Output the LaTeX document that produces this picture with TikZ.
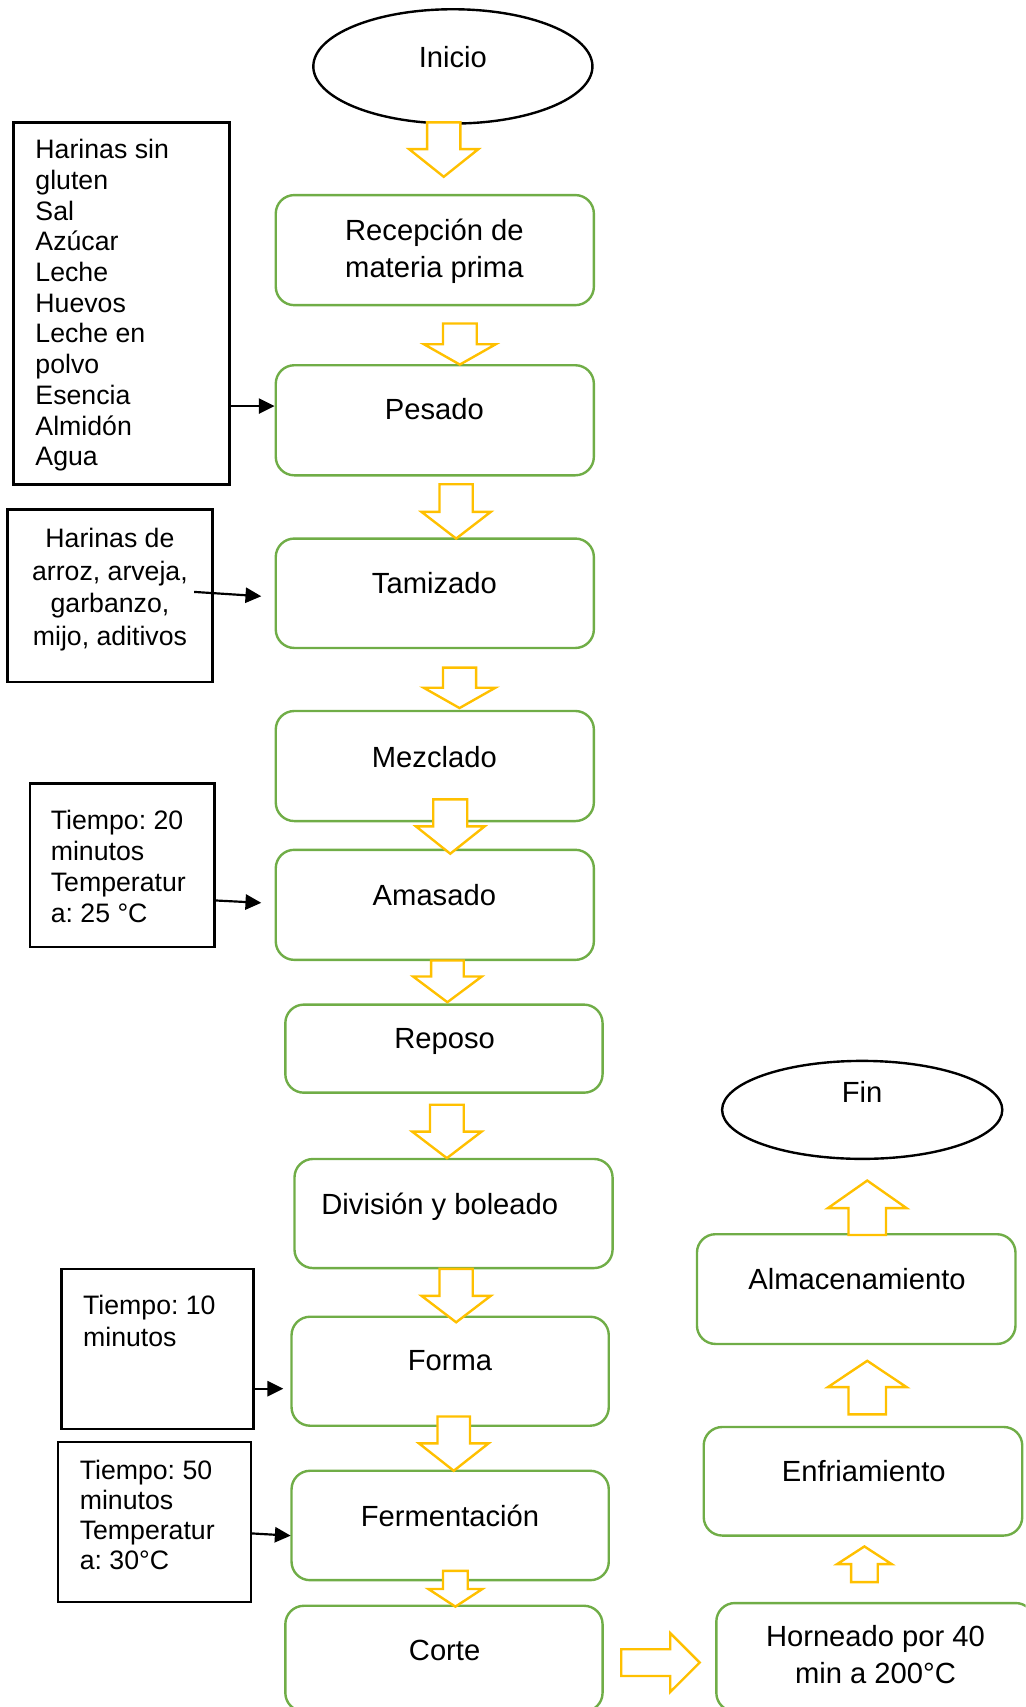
\documentclass[tikz,border=0pt]{standalone}
\usepackage{fontspec}
\setmainfont{Liberation Sans}
\frenchspacing
\usetikzlibrary{arrows.meta,shapes.geometric}
\definecolor{boxgreen}{HTML}{70AD47}
\definecolor{arrowgold}{HTML}{FFC000}
% vertical block arrow: axis x, start, head base, tip, shaft half width, head half width
\newcommand{\varrowblk}[6]{\draw[blockarrow] ({#1-#5},#2) -- ({#1-#5},#3) -- ({#1-#6},#3) -- (#1,#4) -- ({#1+#6},#3) -- ({#1+#5},#3) -- ({#1+#5},#2) -- cycle;}
% box from corners
\newcommand{\mkbox}[6]{\node[#1, minimum width={#5-#3}, minimum height={#6-#4}] (#2) at ({(#3+#5)/2},{(#4+#6)/2}) {};}
\begin{document}
\begin{tikzpicture}[x=1pt,y=-1pt,
 procbox/.style={draw=boxgreen, line width=2.2pt, rounded corners=17pt, inner sep=0pt},
 sidebox/.style={draw=black, line width=2.4pt, inner sep=0pt},
 endbox/.style={ellipse, draw=black, line width=2.2pt, inner sep=0pt},
 blockarrow/.style={draw=arrowgold, line width=2.2pt, fill=white, line join=miter},
 mtext/.style={font=\fontsize{26.8}{33.6}\selectfont, align=center, anchor=base, inner sep=0pt},
 stext/.style={font=\fontsize{24.5}{#1}\selectfont, align=left, anchor=base west, inner sep=0pt},
 stext/.default=28.3,
 link/.style={draw=black, line width=2pt, -{Triangle[length=14.5pt,width=14pt]}}]
\useasboundingbox (0,0) rectangle (942,1568);
\clip (0,0) rectangle (942,1568);

% terminals
\node[endbox, minimum width=256.4, minimum height=105] (inicio) at (416,61) {};
\node[endbox, minimum width=257.4, minimum height=90] (fin) at (792,1019.5) {};

% process boxes
\mkbox{procbox}{recep}{253.3}{179.2}{545.5}{280.3}
\mkbox{procbox}{pesado}{253.3}{335.5}{545.5}{436.6}
\mkbox{procbox}{tamiz}{253.3}{494.7}{545.5}{595.2}
\mkbox{procbox}{mezcla}{253.3}{653.1}{545.5}{754.2}
\mkbox{procbox}{amasado}{253.3}{780.6}{545.5}{881.7}
\mkbox{procbox}{reposo}{262.1}{922.8}{553.5}{1003.7}
\mkbox{procbox}{division}{270.5}{1064.6}{562.7}{1164.8}
\mkbox{procbox}{forma}{267.8}{1209.5}{559.2}{1309.6}
\mkbox{procbox}{ferment}{267.8}{1351}{559.2}{1451.5}
\mkbox{procbox}{corte}{262.1}{1475}{553.5}{1572}
\mkbox{procbox}{horneado}{658}{1472.5}{950}{1572}
\mkbox{procbox}{enfria}{646.4}{1310.8}{939}{1410.5}
\mkbox{procbox}{almacen}{640.2}{1133.7}{932.8}{1234.5}

% side boxes
\mkbox{sidebox}{s1}{12.6}{112.4}{210.7}{444.9}
\mkbox{sidebox}{s2}{6.9}{468}{195}{626.5}
\mkbox{sidebox}{s3}{27.4}{719.9}{197.3}{870}
\mkbox{sidebox}{s4}{56.4}{1165.6}{233.1}{1312.6}
\mkbox{sidebox}{s5}{53.3}{1324.5}{230.5}{1471.5}

% yellow block arrows
\varrowblk{407.6}{112.4}{137}{162.4}{15.25}{31.8}
\varrowblk{422.4}{297.2}{316.2}{334.9}{15.5}{33}
\varrowblk{419}{444.8}{470.2}{494.7}{15.25}{31.8}
\varrowblk{422.1}{613.3}{631.7}{650.4}{15.2}{33}
\varrowblk{413.6}{734.3}{759.1}{784.2}{15.6}{31.5}
\varrowblk{411}{882.3}{897}{920.6}{15}{31.5}
\varrowblk{410.5}{1014.8}{1039.5}{1063.8}{15.5}{31.8}
\varrowblk{419}{1165.6}{1190.3}{1214.6}{15.25}{31.8}
\varrowblk{416.8}{1301.1}{1325.8}{1351}{14.9}{32}
\varrowblk{418.3}{1443}{1459.6}{1475.8}{11.4}{24.8}
\varrowblk{796.6}{1134.4}{1109.8}{1084.4}{17.2}{36.2}
\varrowblk{796.6}{1299.2}{1274.2}{1250}{17.2}{36.2}
\varrowblk{794}{1453.3}{1436.7}{1420.5}{12.25}{25}
\draw[blockarrow] (570.7,1514.9) -- (615.7,1514.9) -- (615.7,1500.2) -- (642.7,1527.2)
  -- (615.7,1554.1) -- (615.7,1539.5) -- (570.7,1539.5) -- cycle;

% black connectors
\coordinate (a1s) at (210.7,373);
\coordinate (a2s) at (178.3,543.7);
\coordinate (a2e) at (240,547.7);
\coordinate (a3s) at (197.3,827.1);
\coordinate (a3e) at (240,829.3);
\coordinate (a4s) at (233.1,1275.6);
\coordinate (a4e) at (260.2,1275.6);
\coordinate (a5s) at (230.5,1408.5);
\coordinate (a5e) at (267,1410.6);
\draw[link] (a1s) -- (a1s -| pesado.west);
\draw[link] (a2s) -- (a2e);
\draw[link] (a3s) -- (a3e);
\draw[link] (a4s) -- (a4e);
\draw[link] (a5s) -- (a5e);

% texts (multi-line nodes are placed at the baseline of their last line)
\node[mtext] (tinicio) at (416,61.6) {Inicio};
\node[mtext] (trecep) at (399,254.6) {Recepción de\\materia prima};
\node[mtext] (tpesado) at (399,385.6) {Pesado};
\node[mtext] (ttamiz) at (399,545.6) {Tamizado};
\node[mtext] (tmezcla) at (399,705) {Mezclado};
\node[mtext] (tamasado) at (399,831.5) {Amasado};
\node[mtext] (treposo) at (408.4,963.5) {Reposo};
\node[mtext] (tdivision) at (404,1115.6) {División y boleado};
\node[mtext] (tforma) at (413.3,1258.7) {Forma};
\node[mtext] (tferment) at (413.3,1402.3) {Fermentación};
\node[mtext] (tcorte) at (408.4,1525) {Corte};
\node[mtext] (thorneado) at (804.2,1546.4) {Horneado por 40\\min a 200°C};
\node[mtext] (tenfria) at (793.4,1360.4) {Enfriamiento};
\node[mtext] (talmacen) at (787.3,1184.5) {Almacenamiento};
\node[mtext] (tfin) at (791.9,1013.1) {Fin};

\node[stext=28.2] (ts1) at (32.4,427.8) {Harinas sin\\gluten\\Sal\\Azúcar\\Leche\\Huevos\\Leche en\\polvo\\Esencia\\Almidón\\Agua};
\node[stext=30.2, align=center, anchor=base] (ts2) at (101,593.2) {Harinas de\\arroz, arveja,\\garbanzo,\\mijo, aditivos};
\node[stext=28.6] (ts3) at (46.5,847.6) {Tiempo: 20\\minutos\\Temperatur\\a: 25 °C};
\node[stext=28.9] (ts4) at (76.2,1236.6) {Tiempo: 10\\minutos};
\node[stext=27.7] (ts5) at (73.1,1442) {Tiempo: 50\\minutos\\Temperatur\\a: 30°C};
\end{tikzpicture}
\end{document}
